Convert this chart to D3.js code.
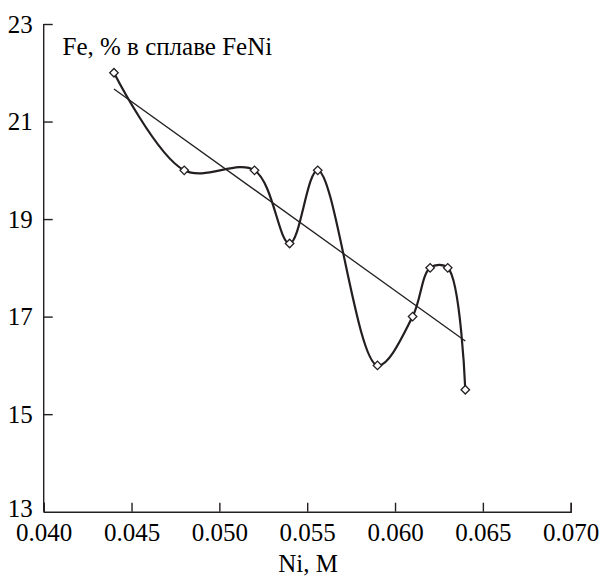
<!DOCTYPE html>
<html>
<head>
<meta charset="utf-8">
<script src="https://cdn.jsdelivr.net/npm/d3@7/dist/d3.min.js"></script>
</head>
<body style="margin:0">
<svg id="chart" width="603" height="577"></svg>
<script>
// Data
const niValues = [0.044, 0.048, 0.052, 0.054, 0.0556, 0.059, 0.061, 0.062, 0.063, 0.064];
const feValues = [22.0, 20.0, 20.0, 18.5, 20.0, 16.0, 17.0, 18.0, 18.0, 15.5];
const xTicks = [0.040, 0.045, 0.050, 0.055, 0.060, 0.065, 0.070];
const yTicks = [13, 15, 17, 19, 21, 23];
const yTitle = "Fe, % в сплаве FeNi";
const xTitle = "Ni, M";

const FONT = "Times New Roman";
const svg = d3.select("#chart");
const mLeft = 43.7, mRight = 570.7, mTop = 24, mBottom = 511.7;
const x = d3.scaleLinear().domain([0.040, 0.070]).range([mLeft, mRight]);
const y = d3.scaleLinear().domain([13, 23]).range([mBottom, mTop]);
const ink = "#231f20";

function txt(sel) {
  return sel.style("font-family", FONT).attr("font-size", 25);
}

// Axes
const xAxis = d3.axisBottom(x).tickValues(xTicks).tickSize(-9).tickSizeOuter(-9)
  .tickPadding(4).tickFormat(d3.format(".3f"));
const gx = svg.append("g").attr("transform", `translate(0,${mBottom})`).call(xAxis);
gx.attr("font-family", null).attr("font-size", null);
txt(gx.selectAll("text")).attr("dy", null).attr("y", 29.3);
gx.selectAll("path, line").attr("stroke", ink).attr("stroke-width", 1.4);

const yAxis = d3.axisLeft(y).tickValues(yTicks).tickSize(-9).tickSizeOuter(0)
  .tickPadding(11).tickFormat(d3.format("d"));
const gy = svg.append("g").attr("transform", `translate(${mLeft},0)`).call(yAxis);
gy.attr("font-family", null).attr("font-size", null);
gy.select(".domain").remove();
gy.append("line").attr("x1", 0).attr("x2", 0).attr("y1", mTop).attr("y2", mBottom)
  .attr("stroke", ink).attr("stroke-width", 1.4);
txt(gy.selectAll("text")).attr("dy", "0.32em");
gy.selectAll(".tick line").attr("stroke", ink).attr("stroke-width", 1.4);
gy.selectAll(".tick").filter(d => d === 13).select("text").attr("dy", "0.2em");
gy.selectAll(".tick").filter(d => d === 13).select("line").remove();

// Titles
txt(svg.append("text")).attr("x", 62.5).attr("y", 55).text(yTitle);
txt(svg.append("text")).attr("x", 308).attr("y", 572)
  .attr("text-anchor", "middle").text(xTitle);

// Data points
const pts = niValues.map((v, i) => [v, feValues[i]]);

// Linear regression trend line
const mx = d3.mean(niValues), my = d3.mean(feValues);
const slope = d3.sum(pts, p => (p[0] - mx) * (p[1] - my)) / d3.sum(pts, p => (p[0] - mx) ** 2);
const icpt = my - slope * mx;
const x0 = d3.min(niValues), x1 = d3.max(niValues);
svg.append("line")
  .attr("x1", x(x0)).attr("y1", y(icpt + slope * x0))
  .attr("x2", x(x1)).attr("y2", y(icpt + slope * x1))
  .attr("stroke", ink).attr("stroke-width", 1.3);

// Smoothed curve
const line = d3.line().x(d => x(d[0])).y(d => y(d[1])).curve(d3.curveCatmullRom.alpha(0.5));
svg.append("path").datum(pts).attr("d", line)
  .attr("fill", "none").attr("stroke", ink).attr("stroke-width", 2.2);

// Diamond markers
svg.selectAll(".pt").data(pts).enter().append("path")
  .attr("class", "pt")
  .attr("transform", d => `translate(${x(d[0])},${y(d[1])}) rotate(45)`)
  .attr("d", d3.symbol().type(d3.symbolSquare).size(36))
  .attr("fill", "#fff").attr("stroke", ink).attr("stroke-width", 1.3);
</script>
</body>
</html>
